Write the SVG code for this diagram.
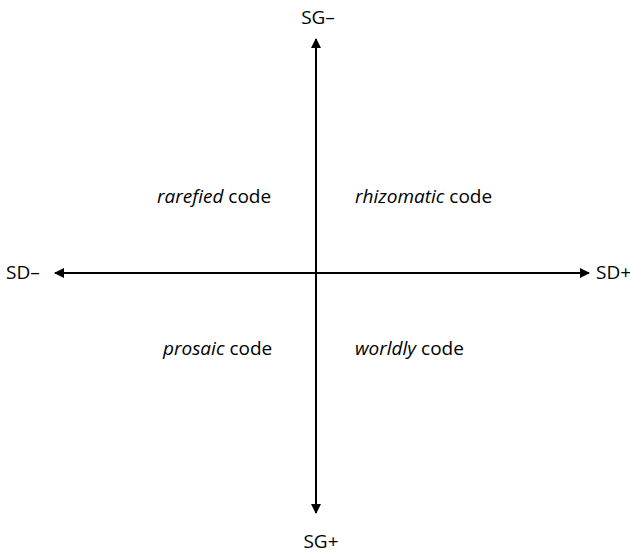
<svg xmlns="http://www.w3.org/2000/svg" width="630" height="553" viewBox="0 0 630 553">
<style>
text{font-family:"Open Sans","Noto Sans",sans-serif;font-size:19px;fill:#000}
.i{font-style:italic}
.ax{stroke:#000;stroke-width:2;fill:none}
</style>
<defs>
<marker id="ah" viewBox="0 0 10 10" refX="9" refY="5" markerWidth="5" markerHeight="5" orient="auto-start-reverse" markerUnits="strokeWidth">
<path d="M0,0 L10,5 L0,10 Z" fill="#000"/>
</marker>
</defs>
<rect width="630" height="553" fill="#fff"/>
<g id="connectors">
<line class="ax" x1="316" y1="39" x2="316" y2="513" marker-start="url(#ah)" marker-end="url(#ah)"/>
<line class="ax" x1="55" y1="273" x2="589" y2="273" marker-start="url(#ah)" marker-end="url(#ah)"/>
</g>
<g id="sg-minus"><text x="318" y="24" text-anchor="middle">SG–</text></g>
<g id="sg-plus"><text x="321" y="548" text-anchor="middle">SG+</text></g>
<g id="sd-minus"><text x="6" y="279">SD–</text></g>
<g id="sd-plus"><text x="596" y="279">SD+</text></g>
<g id="rarefied"><text x="157" y="203"><tspan class="i">rarefied</tspan> code</text></g>
<g id="rhizomatic"><text x="355" y="203"><tspan class="i">rhizomatic</tspan> code</text></g>
<g id="prosaic"><text x="163" y="355"><tspan class="i">prosaic</tspan> code</text></g>
<g id="worldly"><text x="355" y="355"><tspan class="i">worldly</tspan> code</text></g>
</svg>
